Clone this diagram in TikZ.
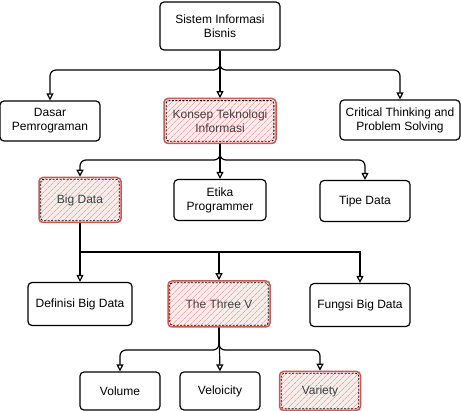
\documentclass[tikz,border=0pt]{standalone}
\usepackage{fontspec}
\setmainfont{Liberation Sans}
\usetikzlibrary{arrows.meta,patterns.meta}
\definecolor{rdback}{HTML}{FCEDEC}
\definecolor{rdfill}{HTML}{F0A8A5}
\definecolor{rdline}{HTML}{C55A57}
\begin{document}
\begin{tikzpicture}[x=1pt,y=1pt,
		box/.style={draw,line width=1.2pt,rounded corners=4pt,align=center,inner sep=2pt,font=\fontsize{12}{14}\selectfont},
		redbox/.style={box,draw=rdline,line width=1.5pt,preaction={fill=rdback},pattern={Lines[angle=45,distance=4pt,line width=0.7pt]},pattern color=rdfill,text=black!75},
		inner/.style={dashed,dash pattern=on 2pt off 1.5pt,line width=0.8pt,rounded corners=3pt},
		conn/.style={line width=1.2pt,rounded corners=6pt,-{Triangle[open,length=7pt,width=7pt]}}]
		\useasboundingbox (0,0) rectangle (461,411);
		% level 0
		\node[box,minimum width=120,minimum height=48] (SIB) at (220,385) {Sistem Informasi\\Bisnis};
		% level 1
		\node[box,minimum width=100,minimum height=40] (DP) at (50,290) {Dasar\\Pemrograman};
		\node[redbox,minimum width=112,minimum height=45] (KTI) at (220,290) {Konsep Teknologi\\Informasi};
		\node[box,minimum width=120,minimum height=40] (CT) at (400,291) {Critical Thinking and\\Problem Solving};
		% level 2
		\node[redbox,minimum width=82,minimum height=45] (BD) at (80,211) {Big Data};
		\node[box,minimum width=92,minimum height=41] (EP) at (220,211) {Etika\\Programmer};
		\node[box,minimum width=90,minimum height=41] (TD) at (365,210) {Tipe Data};
		% level 3
		\node[box,minimum width=104,minimum height=43] (DBD) at (80,107) {Definisi Big Data};
		\node[redbox,minimum width=102,minimum height=46] (TV) at (219,107) {The Three V};
		\node[box,minimum width=100,minimum height=43] (FBD) at (360,106) {Fungsi Big Data};
		% level 4
		\node[box,minimum width=80,minimum height=38] (VOL) at (120,20) {Volume};
		\node[box,minimum width=80,minimum height=38] (VEL) at (220,20) {Veloicity};
		\node[redbox,minimum width=81,minimum height=39] (VAR) at (320,20) {Variety};
		% dashed inner lines of the marked boxes
		\foreach \n in {KTI,BD,TV,VAR}
			\draw[inner] ([shift={(2.5,2.5)}]\n.south west) rectangle ([shift={(-2.5,-2.5)}]\n.north east);
		% branch points
		\coordinate (J1) at (220,341);
		\coordinate (J2) at (220,251);
		\coordinate (J3) at (80,159);
		\coordinate (J4) at (219,61);
		\draw[conn] (SIB.south) -- (J1) -| (DP.north);
		\draw[conn] (SIB.south) -- (KTI.north);
		\draw[conn] (SIB.south) -- (J1) -| (CT.north);
		\draw[conn] (KTI.south) -- (J2) -| (BD.north);
		\draw[conn] (KTI.south) -- (EP.north);
		\draw[conn] (KTI.south) -- (J2) -| (TD.north);
		\draw[conn] (BD.south) -- (DBD.north);
		\draw[conn,rounded corners=0pt] (BD.south) -- (J3) -| (TV.north);
		\draw[conn,rounded corners=0pt] (BD.south) -- (J3) -| (FBD.north);
		\draw[conn] (TV.south) -- (J4) -| (VOL.north);
		\draw[conn] (TV.south) -- (VEL.north);
		\draw[conn] (TV.south) -- (J4) -| (VAR.north);
	\end{tikzpicture}
\end{document}
